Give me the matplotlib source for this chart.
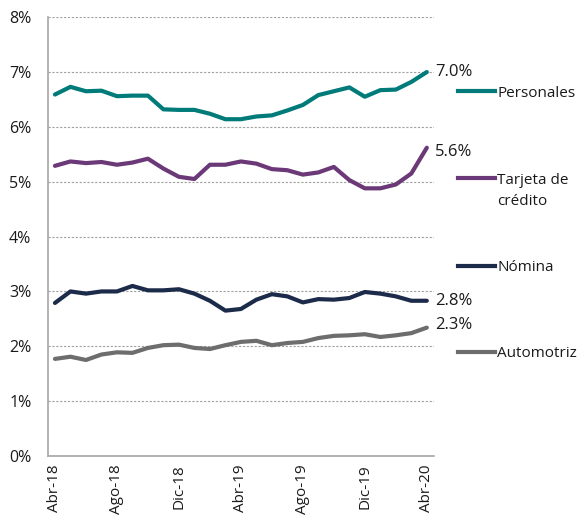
import matplotlib
matplotlib.use("Agg")
import matplotlib.pyplot as plt
from matplotlib.lines import Line2D
import numpy as np

months = ["Abr-18", "May-18", "Jun-18", "Jul-18", "Ago-18", "Sep-18", "Oct-18", "Nov-18",
          "Dic-18", "Ene-19", "Feb-19", "Mar-19", "Abr-19", "May-19", "Jun-19", "Jul-19",
          "Ago-19", "Sep-19", "Oct-19", "Nov-19", "Dic-19", "Ene-20", "Feb-20", "Mar-20", "Abr-20"]

personales = [6.59, 6.73, 6.65, 6.66, 6.56, 6.57, 6.57, 6.32, 6.31, 6.31, 6.24, 6.14, 6.14,
              6.19, 6.21, 6.30, 6.40, 6.58, 6.65, 6.72, 6.55, 6.67, 6.68, 6.82, 7.00]
tarjeta = [5.29, 5.37, 5.34, 5.36, 5.31, 5.35, 5.42, 5.24, 5.09, 5.05, 5.31, 5.31, 5.37,
           5.33, 5.23, 5.21, 5.13, 5.17, 5.27, 5.03, 4.88, 4.88, 4.95, 5.15, 5.62]
nomina = [2.79, 3.00, 2.96, 3.00, 3.00, 3.10, 3.02, 3.02, 3.04, 2.96, 2.83, 2.65, 2.68,
          2.85, 2.95, 2.91, 2.80, 2.86, 2.85, 2.88, 2.99, 2.96, 2.91, 2.83, 2.83]
automotriz = [1.77, 1.81, 1.75, 1.85, 1.89, 1.88, 1.97, 2.02, 2.03, 1.97, 1.95, 2.02, 2.08,
              2.10, 2.02, 2.06, 2.08, 2.15, 2.19, 2.20, 2.22, 2.17, 2.20, 2.24, 2.34]

names = ["Personales", "Tarjeta de", "Nómina", "Automotriz"]
end_labels = ["7.0%", "5.6%", "2.8%", "2.3%"]
colors = ["#007b7a", "#6b3878", "#1c2b4a", "#6d6d6d"]
values = [personales, tarjeta, nomina, automotriz]

plt.rcParams["font.family"] = ["Open Sans", "DejaVu Sans"]

fig = plt.figure(figsize=(5.81, 5.15), dpi=100)
ax = fig.add_axes([0.0826, 0.1146, 0.664, 0.852])

x = np.arange(len(months))
end_dy = [0, -3, 0, 2]   # small nudges of the end labels, in points
for vals, col, lab, dy in zip(values, colors, end_labels, end_dy):
    ax.plot(x, vals, color=col, lw=3, solid_capstyle="round", solid_joinstyle="round")
    ax.annotate(lab, (x[-1], vals[-1]), xytext=(6, dy), textcoords="offset points",
                fontsize=12, va="center", ha="left", color="#1a1a1a", annotation_clip=False)

ax.set_xlim(-0.45, len(months) - 0.55)
ax.set_ylim(0, 8)
ax.set_yticks(range(0, 9))
ax.set_yticklabels([f"{v}%" for v in range(0, 9)], fontsize=11.5)
ax.set_xticks(x[::4])
ax.set_xticklabels(months[::4], rotation=90, fontsize=11)
ax.tick_params(axis="y", length=0, pad=12, colors="#1a1a1a")
ax.tick_params(axis="x", length=0, pad=6, colors="#1a1a1a")
ax.grid(axis="y", ls=(0, (2, 1.5)), color="#a0a0a0", lw=0.8)
for s in ["top", "right"]:
    ax.spines[s].set_visible(False)
for s in ["left", "bottom"]:
    ax.spines[s].set_color("#a6a6a6")
    ax.spines[s].set_linewidth(1.2)

# legend entries sit beside each line
leg_y = [0.819, 0.650, 0.480, 0.313]
for name, col, yy in zip(names, colors, leg_y):
    h = Line2D([], [], color=col, lw=3)
    leg = fig.legend(handles=[h], labels=[name], loc="center left", bbox_to_anchor=(0.789, yy),
                     frameon=False, fontsize=11, handlelength=2.4, handletextpad=0.15,
                     borderaxespad=0, borderpad=0)
    for t in leg.get_texts():
        t.set_color("#1a1a1a")
fig.text(0.855, 0.608, "crédito", fontsize=11, va="center", ha="left", color="#1a1a1a")

fig.savefig("out.png", dpi=100)
